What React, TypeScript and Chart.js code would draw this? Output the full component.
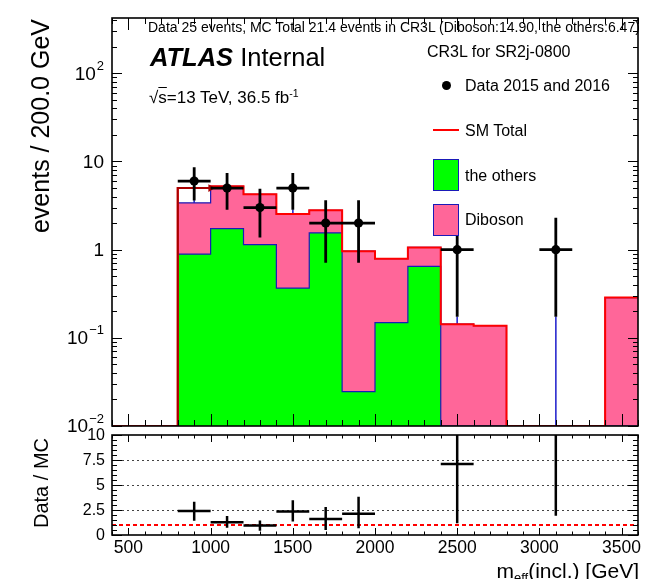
import React, { useEffect, useRef } from 'react';
import { Chart, registerables } from 'chart.js';

Chart.register(...registerables);

// ---------- data ----------
const binEdges = [400, 600, 800, 1000, 1200, 1400, 1600, 1800, 2000, 2200, 2400, 2600, 2800, 3000, 3200, 3400, 3600];
const othersValues = [0, 0, 0.89, 1.73, 1.14, 0.367, 1.55, 0.0245, 0.149, 0.646, 0, 0, 0, 0, 0, 0];
const dibosonValues = [0, 0, 2.51, 3.51, 3.11, 2.17, 1.25, 0.936, 0.641, 0.414, 0.143, 0.137, 0, 0, 0, 0.286];
const smTotalValues = [0, 0, 5.0, 5.24, 4.25, 2.54, 2.8, 0.96, 0.79, 1.06, 0.143, 0.137, 0, 0, 0, 0.286];

const dataX = [900, 1100, 1300, 1500, 1700, 1900, 2500, 3100];
const dataY = [6, 5, 3, 5, 2, 2, 1, 1];
const dataLow = [3.62, 2.84, 1.37, 2.84, 0.71, 0.71, 0.173, 0.173];
const dataHigh = [8.58, 7.38, 4.92, 7.38, 3.64, 3.64, 2.3, 2.3];
const binHalfWidth = 100;

const ratioY: (number | null)[] = [2.4, 1.27, 0.95, 2.36, 1.6, 2.13, 7.1, null];
const ratioLow = [1.43, 0.73, 0.43, 1.34, 0.5, 0.68, 1.18, 1.93];
const ratioHigh = [3.33, 1.9, 1.45, 3.47, 2.8, 3.82, 14, 20];

const xMin = 400;
const xMax = 3600;
const yMin = 0.01;
const yMax = 424;
const ratioMin = 0;
const ratioMax = 10;

const xMajorTicks = [500, 1000, 1500, 2000, 2500, 3000, 3500];
const xTickLabels = ['500', '1000', '1500', '2000', '2500', '3000', '3500'];
const yLogTicks = [0.01, 0.1, 1, 10, 100];
const yLogBase = ['10', '10', '1', '10', '10'];
const yLogExp = ['\u22122', '\u22121', '', '', '2'];
const ratioTicks = [0, 2.5, 5, 7.5, 10];
const ratioTickLabels = ['0', '2.5', '5', '7.5', '10'];
const ratioGrid = [2.5, 5, 7.5];

// ---------- styles ----------
const FONT = '"Liberation Sans", Arial, Helvetica, sans-serif';
const PINK = '#ff6699';
const GREEN = '#00ff00';
const BLUE = '#1a1ab8';
const RED = '#ff0000';

const W = 665;
const H = 579;

function stepPoints(values: number[]) {
  const pts = values.map((v, i) => ({ x: binEdges[i], y: v > 0 ? v : yMin }));
  const last = values[values.length - 1];
  pts.push({ x: binEdges[binEdges.length - 1], y: last > 0 ? last : yMin });
  return pts;
}

function minorLinear(step: number, lo: number, hi: number) {
  const out: number[] = [];
  for (let v = lo; v <= hi + 1e-9; v += step) out.push(Math.round(v * 1000) / 1000);
  return out;
}

function minorLog(lo: number, hi: number) {
  const out: number[] = [];
  for (let e = -3; e <= 3; e++) {
    for (let k = 2; k <= 9; k++) {
      const v = k * Math.pow(10, e);
      if (v > lo && v < hi) out.push(v);
    }
  }
  return out;
}

type AxisCfg = {
  xMajor: number[];
  xMinor: number[];
  xMajorLen: number;
  xMinorLen: number;
  yMajor: number[];
  yMinor: number[];
  yMajorLen: number;
  yMinorLen: number;
  grid?: number[];
  drawLabels: (chart: any) => void;
};

function makeAxesPlugin(cfg: AxisCfg) {
  return {
    id: 'rootAxes',
    beforeDatasetsDraw(chart: any) {
      if (!cfg.grid) return;
      const { ctx, chartArea: a, scales } = chart;
      ctx.save();
      ctx.strokeStyle = '#444';
      ctx.lineWidth = 1;
      ctx.setLineDash([2, 3]);
      cfg.grid.forEach((v) => {
        const py = Math.round(scales.y.getPixelForValue(v)) + 0.5;
        ctx.beginPath();
        ctx.moveTo(a.left, py);
        ctx.lineTo(a.right, py);
        ctx.stroke();
      });
      ctx.restore();
    },
    afterDatasetsDraw(chart: any) {
      const { ctx, chartArea: a, scales } = chart;
      const xs = scales.x;
      const ys = scales.y;
      ctx.save();
      ctx.strokeStyle = '#000';
      ctx.lineWidth = 1;
      ctx.setLineDash([]);
      const seg = (x1: number, y1: number, x2: number, y2: number) => {
        ctx.beginPath();
        ctx.moveTo(x1, y1);
        ctx.lineTo(x2, y2);
        ctx.stroke();
      };
      const xt = (vals: number[], len: number) =>
        vals.forEach((v) => {
          const px = Math.round(xs.getPixelForValue(v)) + 0.5;
          seg(px, a.bottom, px, a.bottom - len);
          seg(px, a.top, px, a.top + len);
        });
      const yt = (vals: number[], len: number) =>
        vals.forEach((v) => {
          const py = Math.round(ys.getPixelForValue(v)) + 0.5;
          seg(a.left, py, a.left + len, py);
          seg(a.right, py, a.right - len, py);
        });
      xt(cfg.xMinor, cfg.xMinorLen);
      xt(cfg.xMajor, cfg.xMajorLen);
      yt(cfg.yMinor, cfg.yMinorLen);
      yt(cfg.yMajor, cfg.yMajorLen);
      ctx.lineWidth = 1.6;
      ctx.strokeRect(a.left, a.top, a.right - a.left, a.bottom - a.top);
      ctx.restore();
      ctx.save();
      cfg.drawLabels(chart);
      ctx.restore();
    },
  };
}

function upperConfig(): any {
  const stackTotal = othersValues.map((v, i) => v + dibosonValues[i]);
  const errSegs: any[] = [];
  const tailSegs: any[] = [];
  dataX.forEach((x, i) => {
    errSegs.push({ x: x - binHalfWidth, y: dataY[i] }, { x: x + binHalfWidth, y: dataY[i] }, { x, y: null });
    errSegs.push({ x, y: dataLow[i] }, { x, y: dataHigh[i] }, { x, y: null });
    tailSegs.push({ x, y: dataLow[i] }, { x, y: yMin }, { x, y: null });
  });
  const arrow = [
    { x: binEdges[2], y: yMin },
    { x: binEdges[2], y: smTotalValues[2] },
    { x: binEdges[3], y: smTotalValues[2] },
  ];

  const plugin = makeAxesPlugin({
    xMajor: xMajorTicks,
    xMinor: minorLinear(100, xMin, xMax),
    xMajorLen: 12,
    xMinorLen: 6,
    yMajor: yLogTicks,
    yMinor: minorLog(yMin, yMax),
    yMajorLen: 10,
    yMinorLen: 5,
    drawLabels: (chart: any) => {
      const { ctx, chartArea: a, scales } = chart;
      ctx.fillStyle = '#000';
      ctx.textBaseline = 'middle';
      ctx.textAlign = 'left';
      yLogTicks.forEach((v, i) => {
        const py = scales.y.getPixelForValue(v);
        ctx.font = `19px ${FONT}`;
        const bw = ctx.measureText(yLogBase[i]).width;
        ctx.font = `13px ${FONT}`;
        const ew = yLogExp[i] ? ctx.measureText(yLogExp[i]).width + 1 : 0;
        const right = a.left - 8;
        ctx.font = `19px ${FONT}`;
        ctx.fillText(yLogBase[i], right - ew - bw, py + 1);
        if (yLogExp[i]) {
          ctx.font = `13px ${FONT}`;
          ctx.fillText(yLogExp[i], right - ew + 1, py - 7);
        }
      });
    },
  });

  return {
    type: 'line',
    data: {
      datasets: [
        { data: tailSegs, borderColor: '#3030d0', borderWidth: 1, fill: false, order: 10, spanGaps: false },
        { data: stepPoints(stackTotal), stepped: 'before', fill: 'start', backgroundColor: PINK, borderColor: BLUE, borderWidth: 1.2, order: 6 },
        { data: stepPoints(othersValues), stepped: 'before', fill: 'start', backgroundColor: GREEN, borderColor: BLUE, borderWidth: 1.2, order: 5 },
        { data: stepPoints(smTotalValues), stepped: 'before', fill: false, borderColor: RED, borderWidth: 2, order: 4 },
        {
          data: arrow,
          fill: false,
          borderColor: '#a80000',
          borderWidth: 2,
          order: 3,
          pointRadius: [0, 0, 4.5],
          pointStyle: 'triangle',
          rotation: 90,
          pointBackgroundColor: '#a80000',
          pointBorderColor: '#a80000',
          pointBorderWidth: 0,
        },
        { data: errSegs, borderColor: '#000', borderWidth: 2.8, fill: false, order: 2, spanGaps: false },
        {
          data: dataX.map((x, i) => ({ x, y: dataY[i] })),
          showLine: false,
          pointRadius: 4.6,
          pointBackgroundColor: '#000',
          pointBorderColor: '#000',
          pointBorderWidth: 0,
          order: 1,
        },
      ],
    },
    options: {
      animation: false,
      responsive: false,
      devicePixelRatio: 1,
      events: [],
      layout: { padding: { left: 112, right: W - 638, top: 18, bottom: H - 426 } },
      elements: { point: { radius: 0 }, line: { tension: 0 } },
      plugins: { legend: { display: false }, tooltip: { enabled: false }, title: { display: false } },
      scales: {
        x: { type: 'linear', min: xMin, max: xMax, display: false },
        y: { type: 'logarithmic', min: yMin, max: yMax, display: false },
      },
    },
    plugins: [plugin],
  };
}

function lowerConfig(): any {
  const segs: any[] = [];
  dataX.forEach((x, i) => {
    const r = ratioY[i];
    if (r !== null) {
      segs.push({ x: x - binHalfWidth, y: r }, { x: x + binHalfWidth, y: r }, { x, y: null });
    }
    segs.push({ x, y: ratioLow[i] }, { x, y: ratioHigh[i] }, { x, y: null });
  });

  const plugin = makeAxesPlugin({
    xMajor: xMajorTicks,
    xMinor: minorLinear(100, xMin, xMax),
    xMajorLen: 7,
    xMinorLen: 3.5,
    yMajor: ratioTicks,
    yMinor: minorLinear(0.5, ratioMin, ratioMax),
    yMajorLen: 10,
    yMinorLen: 5,
    grid: ratioGrid,
    drawLabels: (chart: any) => {
      const { ctx, chartArea: a, scales } = chart;
      ctx.fillStyle = '#000';
      ctx.textBaseline = 'middle';
      ctx.font = `16px ${FONT}`;
      ctx.textAlign = 'right';
      ratioTicks.forEach((v, i) => {
        ctx.fillText(ratioTickLabels[i], a.left - 7, scales.y.getPixelForValue(v) + 1);
      });
      ctx.font = `17.5px ${FONT}`;
      ctx.textAlign = 'center';
      xMajorTicks.forEach((v, i) => {
        ctx.fillText(xTickLabels[i], scales.x.getPixelForValue(v), a.bottom + 13);
      });
    },
  });

  return {
    type: 'line',
    data: {
      datasets: [
        {
          data: [{ x: xMin, y: 1 }, { x: xMax, y: 1 }],
          borderColor: RED,
          borderWidth: 2,
          borderDash: [4, 3],
          fill: false,
          order: 3,
        },
        { data: segs, borderColor: '#000', borderWidth: 2.5, fill: false, order: 1, spanGaps: false },
      ],
    },
    options: {
      animation: false,
      responsive: false,
      devicePixelRatio: 1,
      events: [],
      layout: { padding: { left: 112, right: W - 638, top: 435, bottom: H - 535 } },
      elements: { point: { radius: 0 }, line: { tension: 0 } },
      plugins: { legend: { display: false }, tooltip: { enabled: false }, title: { display: false } },
      scales: {
        x: { type: 'linear', min: xMin, max: xMax, display: false },
        y: { type: 'linear', min: ratioMin, max: ratioMax, display: false },
      },
    },
    plugins: [plugin],
  };
}

function Txt(props: { x: number; y: number; size: number; children: any; style?: any }) {
  const { x, y, size, children, style } = props;
  return (
    <div
      style={{
        position: 'absolute',
        left: x,
        top: y - size / 2,
        fontSize: size,
        lineHeight: `${size}px`,
        whiteSpace: 'nowrap',
        color: '#000',
        fontFamily: FONT,
        ...style,
      }}
    >
      {children}
    </div>
  );
}

export default function App() {
  const upRef = useRef<HTMLCanvasElement>(null);
  const loRef = useRef<HTMLCanvasElement>(null);

  useEffect(() => {
    const up = new Chart(upRef.current as HTMLCanvasElement, upperConfig());
    const lo = new Chart(loRef.current as HTMLCanvasElement, lowerConfig());
    return () => {
      up.destroy();
      lo.destroy();
    };
  }, []);

  const canvasStyle: any = { position: 'absolute', left: 0, top: 0, width: W, height: H };
  const sup: any = { fontSize: '0.62em', verticalAlign: '0.6em', lineHeight: 0 };
  const sub: any = { fontSize: '0.62em', verticalAlign: '-0.3em', lineHeight: 0 };

  return (
    <div
      style={{
        position: 'fixed',
        left: 0,
        top: 0,
        width: W,
        height: H,
        background: '#fff',
        overflow: 'hidden',
        fontFamily: FONT,
      }}
    >
      <canvas ref={upRef} width={W} height={H} style={canvasStyle} />
      <canvas ref={loRef} width={W} height={H} style={canvasStyle} />

      <Txt x={148} y={27} size={14}>
        Data 25 events, MC Total 21.4 events in CR3L (Diboson:14.90, the others:6.47)
      </Txt>
      <Txt x={150} y={58} size={25.5}>
        <span style={{ fontWeight: 'bold', fontStyle: 'italic' }}>ATLAS</span> Internal
      </Txt>
      <Txt x={149} y={97} size={17}>
        <span>{'\u221A'}</span>
        <span style={{ textDecoration: 'overline' }}>s</span>=13 TeV, 36.5 fb<span style={sup}>-1</span>
      </Txt>
      <Txt x={427} y={52} size={16}>
        CR3L for SR2j-0800
      </Txt>

      {/* legend */}
      <div
        style={{ position: 'absolute', left: 441.5, top: 80.5, width: 9, height: 9, borderRadius: '50%', background: '#000' }}
      />
      <Txt x={465} y={86} size={16}>
        Data 2015 and 2016
      </Txt>
      <div style={{ position: 'absolute', left: 433, top: 129, width: 26, height: 2, background: RED }} />
      <Txt x={465} y={131} size={16}>
        SM Total
      </Txt>
      <div
        style={{
          position: 'absolute',
          left: 433,
          top: 159,
          width: 26,
          height: 32,
          boxSizing: 'border-box',
          background: GREEN,
          border: `1.5px solid ${BLUE}`,
        }}
      />
      <Txt x={465} y={176} size={16}>
        the others
      </Txt>
      <div
        style={{
          position: 'absolute',
          left: 433,
          top: 204,
          width: 26,
          height: 32,
          boxSizing: 'border-box',
          background: PINK,
          border: `1.5px solid ${BLUE}`,
        }}
      />
      <Txt x={465} y={220} size={16}>
        Diboson
      </Txt>

      {/* axis titles */}
      <div
        style={{
          position: 'absolute',
          left: 28,
          top: 19,
          fontSize: 25,
          lineHeight: '25px',
          writingMode: 'vertical-rl',
          transform: 'rotate(180deg)',
          whiteSpace: 'nowrap',
          fontFamily: FONT,
        }}
      >
        events / 200.0 GeV
      </div>
      <div
        style={{
          position: 'absolute',
          left: 31,
          top: 438,
          fontSize: 20,
          lineHeight: '20px',
          writingMode: 'vertical-rl',
          transform: 'rotate(180deg)',
          whiteSpace: 'nowrap',
          fontFamily: FONT,
        }}
      >
        Data / MC
      </div>
      <div
        style={{
          position: 'absolute',
          right: W - 639,
          top: 570 - 10.5,
          fontSize: 21,
          lineHeight: '21px',
          whiteSpace: 'nowrap',
          fontFamily: FONT,
        }}
      >
        m<span style={sub}>eff</span>(incl.) [GeV]
      </div>
    </div>
  );
}
